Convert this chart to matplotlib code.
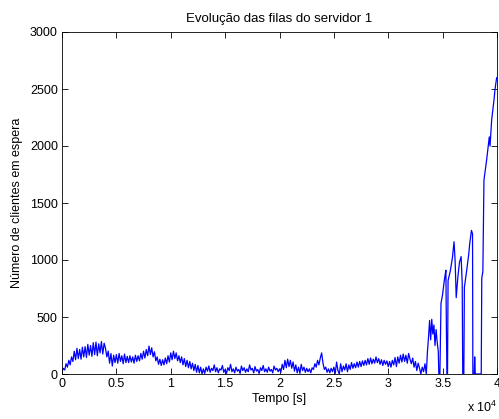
import matplotlib
matplotlib.use('Agg')
import matplotlib.pyplot as plt
import numpy as np

plt.rcParams['font.family'] = ['Liberation Sans', 'DejaVu Sans']
plt.rcParams['mathtext.default'] = 'regular'

# fila do servidor 1: amostras a cada 125 s ate 33500 s
passo = 125
fila_inicio = [
    20, 50, 35, 90, 60, 120, 80, 150,
    110, 200, 125, 225, 135, 215, 130, 235,
    150, 240, 145, 260, 165, 250, 155, 275,
    170, 280, 160, 265, 185, 285, 175, 270,
    225, 150, 200, 95, 180, 70, 165, 100,
    170, 95, 180, 110, 160, 90, 175, 100,
    155, 100, 160, 105, 150, 95, 165, 110,
    160, 115, 180, 130, 200, 140, 215, 160,
    245, 170, 230, 150, 195, 115, 150, 85,
    130, 75, 125, 80, 140, 90, 160, 105,
    185, 125, 200, 135, 185, 115, 160, 100,
    150, 80, 135, 65, 120, 55, 110, 45,
    95, 30, 85, 15, 75, 10, 60, 0,
    45, 5, 60, 25, 70, 15, 50, 30,
    80, 20, 55, 10, 45, 35, 75, 15,
    40, 5, 55, 30, 85, 20, 45, 10,
    60, 25, 40, 5, 70, 30, 55, 15,
    45, 20, 80, 35, 50, 10, 65, 25,
    40, 5, 55, 30, 75, 20, 45, 15,
    60, 25, 40, 10, 70, 35, 50, 20,
    45, 15, 85, 40, 120, 55, 130, 65,
    120, 50, 105, 25, 80, 10, 60, 5,
    85, 30, 60, 15, 50, 20, 45, 10,
    55, 40, 90, 60, 120, 80, 140, 185,
    95, 40, 60, 15, 45, 10, 50, 20,
    60, 5, 105, 30, 0, 90, 20, 70,
    35, 90, 20, 80, 40, 100, 50, 90,
    55, 105, 60, 110, 65, 115, 75, 120,
    80, 135, 85, 140, 90, 130, 95, 150,
    100, 135, 85, 125, 75, 120, 85, 115,
    65, 110, 60, 120, 80, 145, 65, 150,
    95, 165, 105, 175, 110, 165, 95, 180,
    130, 90, 140, 60, 110, 30, 95, 50,
    0, 60, 20, 90, 0,
]

# trecho final (instavel)
t_fim = [33600, 33700, 33800, 33900, 34000, 34100, 34200, 34300, 34400,
         34500, 34600, 34650, 34750, 34850, 35000, 35100, 35200, 35300,
         35350, 35400, 35450, 35500, 35700, 35900, 36050, 36150, 36250,
         36400, 36550, 36700, 36800, 36850, 36950, 37000, 37200, 37400,
         37500, 37650, 37750, 37780, 37900, 37950, 38000, 38550, 38600,
         38700, 38800, 39050, 39290, 39360, 39510, 39720, 39820, 39970,
         40000]
fila_fim = [190, 320, 470, 300, 480, 350, 430, 250, 390,
            280, 200, 0, 0, 620, 700, 780, 850, 910,
            360, 0, 0, 820, 900, 1020, 1160, 990, 670,
            850, 980, 1030, 800, 0, 0, 760, 900, 1050,
            1150, 1260, 1230, 0, 0, 150, 0, 0, 840,
            900, 1700, 1880, 2080, 2000, 2230, 2400, 2500, 2600,
            2600]

t = list(np.arange(len(fila_inicio)) * passo) + t_fim
fila = fila_inicio + fila_fim

fig = plt.figure(figsize=(4.99, 4.19), dpi=100)
ax = fig.add_axes([62 / 499, 45 / 419, 435 / 499, 342 / 419])
ax.plot(t, fila, color='blue', linewidth=0.9)

ax.set_xlim(0, 40000)
ax.set_ylim(0, 3000)
ax.set_xticks(np.arange(0, 40001, 5000))
ax.set_xticklabels(['0', '0.5', '1', '1.5', '2', '2.5', '3', '3.5', '4'])
ax.set_yticks(np.arange(0, 3001, 500))
ax.tick_params(direction='in', length=4, width=0.6, top=True, right=True,
               labelsize=9, pad=3)
for s in ax.spines.values():
    s.set_linewidth(0.6)

ax.text(1.0, -0.075, 'x 10$^{4}$', transform=ax.transAxes, ha='right',
        va='top', fontsize=9)
ax.set_title('Evolução das filas do servidor 1', fontsize=9.5, pad=7)
ax.set_xlabel('Tempo [s]', fontsize=9, labelpad=2)
ax.set_ylabel('Número de clientes em espera', fontsize=9, labelpad=5)

fig.savefig('out.png', dpi=100, facecolor='white')
